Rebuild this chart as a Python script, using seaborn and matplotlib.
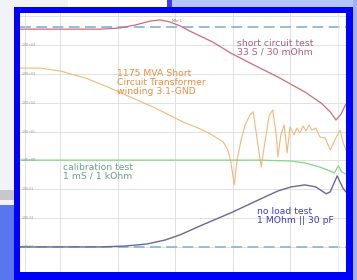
import numpy as np
import pandas as pd
import matplotlib
matplotlib.use("Agg")
import matplotlib.pyplot as plt
from matplotlib.patches import Rectangle
import seaborn as sns

# x in decades of frequency (log10 Hz), y in grid divisions
sc_logf = [1.30, 2.00, 2.70, 3.04, 3.30, 3.57, 3.74, 3.91, 4.09, 4.26, 4.44, 4.66,
           4.97, 5.30, 5.79, 6.26, 6.54, 6.70, 6.80, 6.89, 6.97]
sc_val = [7.55, 7.55, 7.55, 7.59, 7.69, 7.83, 7.87, 7.80, 7.66, 7.48, 7.31, 7.10,
          6.72, 6.38, 5.89, 5.37, 4.99, 4.68, 4.40, 4.61, 4.95]

tr_logf = [1.30, 1.65, 2.00, 2.44, 2.87, 3.22, 3.62, 4.14, 4.44, 4.61, 4.84, 4.92,
           4.97, 5.03, 5.08, 5.15, 5.22, 5.30, 5.36, 5.43, 5.50, 5.57, 5.64, 5.70,
           5.76, 5.79, 5.84, 5.90, 5.95, 6.00, 6.07, 6.12, 6.17, 6.23, 6.28, 6.33,
           6.38, 6.45, 6.52, 6.61, 6.70, 6.78, 6.87, 6.92, 6.97]
tr_val = [6.20, 6.20, 6.10, 5.86, 5.51, 5.20, 4.85, 4.33, 4.09, 3.92, 3.64, 3.36,
          2.95, 2.15, 3.01, 3.71, 4.23, 4.57, 4.68, 3.71, 2.77, 3.71, 4.57, 4.75,
          3.88, 3.12, 3.88, 4.23, 3.26, 4.16, 3.88, 4.12, 3.95, 4.19, 4.02, 4.23,
          4.05, 4.12, 3.81, 3.78, 3.36, 3.71, 4.05, 3.64, 3.36]

cal_logf = [1.30, 2.70, 4.44, 5.48, 6.00, 6.26, 6.52, 6.70, 6.77, 6.84, 6.90, 6.97]
cal_val = [3.01, 3.01, 3.01, 3.01, 2.98, 2.91, 2.77, 2.63, 2.56, 2.81, 2.60, 2.53]

nl_logf = [1.30, 2.70, 3.13, 3.51, 3.83, 4.09, 4.52, 4.97, 5.41, 5.79, 6.02, 6.26,
           6.45, 6.63, 6.70, 6.82, 6.92, 6.97]
nl_val = [0.00, 0.00, 0.03, 0.10, 0.24, 0.42, 0.80, 1.18, 1.59, 1.94, 2.08, 2.15,
          2.08, 1.84, 1.91, 2.46, 2.04, 1.91]

ref_levels = [7.62, 0.0]
ytick_pos = [0, 1, 2, 3, 4, 5, 6, 7]
ytick_lab = ["1.0E-03", "1.0E-02", "1.0E-01", "1.0E+00",
             "1.0E+01", "1.0E+02", "1.0E+03", "1.0E+04"]
xtick_pos = [2, 3, 4, 5, 6]

W, H = 357, 280
fig = plt.figure(figsize=(W / 100, H / 100), dpi=100)
fig.patch.set_facecolor("#f2f3f8")
sns.set_style("white")
plt.rcParams["font.family"] = ["DejaVu Sans"]


def px_rect(x0, y0, x1, y1, color, z=0):
    fig.add_artist(Rectangle((x0 / W, 1 - y1 / H), (x1 - x0) / W, (y1 - y0) / H,
                             transform=fig.transFigure, facecolor=color,
                             edgecolor="none", zorder=z))


# background pieces of the slide behind the chart
px_rect(0, 205, 14, 280, "#5a76ec")
px_rect(0, 190, 14, 200, "#c8c8cc")
px_rect(172, 0, 357, 8, "#b4c6f4")
px_rect(167, 0, 172, 8, "#3a3af0")
px_rect(68, 0, 167, 7, "#ffffff")
px_rect(353, 0, 357, 280, "#a2aef6")
# blue frame
px_rect(14, 7, 353, 280, "#0000ff", z=1)

ax = fig.add_axes([20 / W, 1 - 272 / H, (346 - 20) / W, (272 - 13) / H])
ax.set_zorder(2)
ax.set_facecolor("white")

frames = [
    (sc_logf, sc_val, "#d06a7a", 0.9),
    (tr_logf, tr_val, "#f2b87a", 0.8),
    (cal_logf, cal_val, "#86d486", 0.9),
    (nl_logf, nl_val, "#6a6898", 1.0),
]
for xs, ys, col, lw in frames:
    df = pd.DataFrame({"f": xs, "v": ys})
    sns.lineplot(data=df, x="f", y="v", ax=ax, color=col, lw=lw, zorder=3)

for lvl in ref_levels:
    ax.axhline(lvl, color="#8cb6dc", lw=1.3, ls=(0, (6, 3)), zorder=2)

ax.set_xlim(1.304, 6.974)
ax.set_ylim(-0.87, 8.11)
ax.set_xticks(xtick_pos)
ax.set_yticks(ytick_pos + [8])
ax.grid(True, color="#dcdcdc", lw=0.6)
ax.axvline(1.39, color="#dcdcdc", lw=0.6)
ax.axvline(6.835, color="#e4e4e4", lw=0.5)
ax.tick_params(length=0, labelleft=False, labelbottom=False)
ax.set_xlabel("")
ax.set_ylabel("")
for s in ax.spines.values():
    s.set_visible(False)

for p, lab in zip(ytick_pos, ytick_lab):
    ax.text(1.34, p, lab, fontsize=2.3, color="#8a9a8a", va="center", ha="left")
ax.text(3.95, 7.82, "Mkr 1", fontsize=2.5, color="#707070", va="center")

label_kw = dict(fontsize=6.7, va="top", ha="left", linespacing=0.95)
ax.text(5.08, 7.22, "short circuit test\n33 S / 30 mOhm", color="#a8607c", **label_kw)
ax.text(2.99, 6.16, "1175 MVA Short\nCircuit Transformer\nwinding 3.1-GND",
        color="#ec8c40", **label_kw)
ax.text(2.05, 2.90, "calibration test\n1 mS / 1 kOhm", color="#6a9e86", **label_kw)
ax.text(5.43, 1.37, "no load test\n1 MOhm || 30 pF", color="#3c3cc4", **label_kw)

fig.savefig("out.png", dpi=100, facecolor=fig.get_facecolor())
